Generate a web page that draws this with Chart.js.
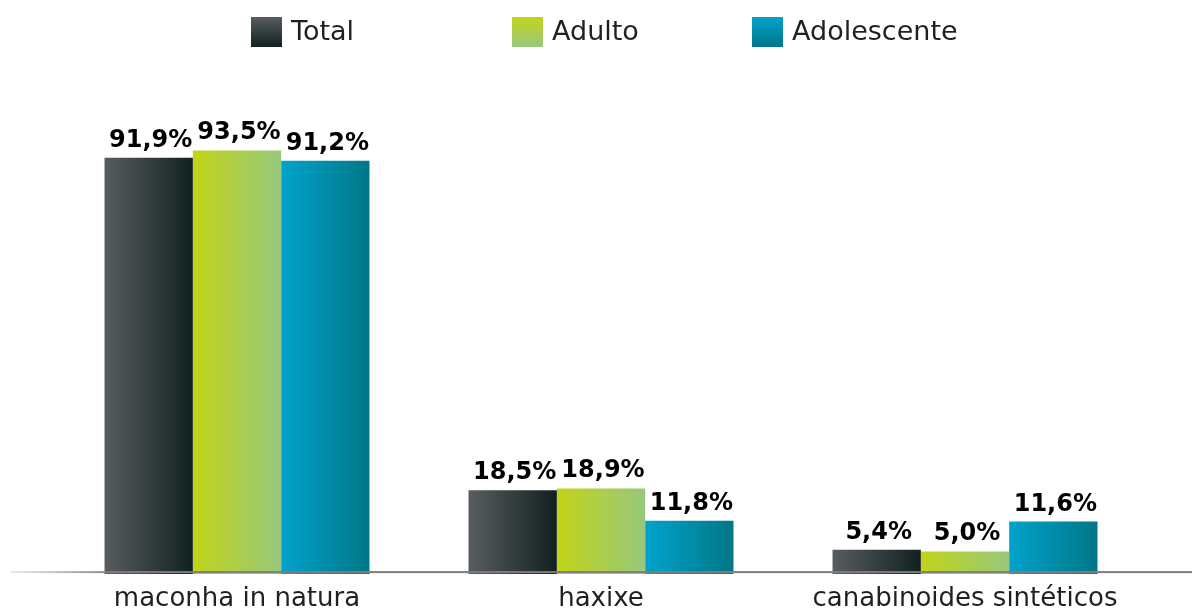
<!DOCTYPE html>
<html><head><meta charset="utf-8">
<script src="https://cdn.jsdelivr.net/npm/chart.js@4/dist/chart.umd.min.js"></script>
<style>html,body{margin:0;padding:0;background:#fff;}#wrap{width:1192px;height:610px;position:relative}</style>
</head><body><div id="wrap"><canvas id="c" width="1192" height="610"></canvas></div>
<script>
const categories = ['maconha in natura', 'haxixe', 'canabinoides sintéticos'];
const seriesNames = ['Total', 'Adulto', 'Adolescente'];
const totalValues = [91.9, 18.5, 5.4];
const adultoValues = [93.5, 18.9, 5.0];
const adolescenteValues = [91.2, 11.8, 11.6];
const yRange = [0, 100];

const FONT = '"DejaVu Sans", sans-serif';
const gradStops = [['#585d60', '#112020'], ['#c2d418', '#96c87c'], ['#00a3cc', '#007787']];
const legendX = [251, 512, 752];

const gradientPlugin = {
  id: 'grad',
  beforeDatasetsDraw(chart) {
    const ctx = chart.ctx;
    chart.data.datasets.forEach((ds, di) => {
      const meta = chart.getDatasetMeta(di);
      meta.data.forEach(bar => {
        const g = ctx.createLinearGradient(bar.x - bar.width / 2, 0, bar.x + bar.width / 2, 0);
        g.addColorStop(0, gradStops[di][0]);
        g.addColorStop(1, gradStops[di][1]);
        bar.options = Object.assign({}, bar.options, { backgroundColor: g });
      });
    });
  },
  afterDatasetsDraw(chart) {
    const ctx = chart.ctx;
    const ca = chart.chartArea;
    // baseline
    const y = ca.bottom - 2;
    const lg = ctx.createLinearGradient(10, 0, 120, 0);
    lg.addColorStop(0, 'rgba(150,150,150,0.2)');
    lg.addColorStop(1, 'rgba(125,125,125,1)');
    ctx.save();
    ctx.fillStyle = lg;
    ctx.fillRect(10, y - 1, chart.width - 10, 2);
    // value labels
    ctx.fillStyle = '#000';
    ctx.font = 'bold 24px ' + FONT;
    ctx.textAlign = 'center';
    ctx.textBaseline = 'alphabetic';
    chart.data.datasets.forEach((ds, di) => {
      const meta = chart.getDatasetMeta(di);
      meta.data.forEach((bar, i) => {
        const txt = ds.data[i].toFixed(1).replace('.', ',') + '%';
        ctx.fillText(txt, bar.x + 2, bar.y - 11);
      });
    });
    // legend
    ctx.font = '27px ' + FONT;
    ctx.textAlign = 'left';
    ctx.textBaseline = 'middle';
    chart.data.datasets.forEach((ds, di) => {
      const x = legendX[di];
      const g = ctx.createLinearGradient(0, 17, 0, 47);
      g.addColorStop(0, gradStops[di][0]);
      g.addColorStop(1, gradStops[di][1]);
      ctx.fillStyle = g;
      ctx.fillRect(x, 17, 31, 30);
      ctx.fillStyle = '#231f20';
      ctx.fillText(ds.label, x + 40, 33);
    });
    ctx.restore();
  }
};

new Chart(document.getElementById('c'), {
  type: 'bar',
  data: {
    labels: categories,
    datasets: [
      { label: seriesNames[0], data: totalValues, backgroundColor: gradStops[0][1] },
      { label: seriesNames[1], data: adultoValues, backgroundColor: gradStops[1][1] },
      { label: seriesNames[2], data: adolescenteValues, backgroundColor: gradStops[2][1] }
    ]
  },
  options: {
    responsive: false,
    animation: false,
    layout: { padding: { left: 55, right: 45, top: 121, bottom: -14 } },
    plugins: { legend: { display: false }, tooltip: { enabled: false } },
    datasets: { bar: { categoryPercentage: 0.728, barPercentage: 1.0, borderWidth: 0 } },
    scales: {
      x: {
        grid: { display: false, drawTicks: false, tickLength: 0 },
        border: { display: false },
        ticks: { color: '#231f20', font: { family: FONT, size: 26, lineHeight: 1.15 }, padding: 10, maxRotation: 0, autoSkip: false }
      },
      y: { display: false, min: yRange[0], max: yRange[1] }
    }
  },
  plugins: [gradientPlugin]
});
</script>
</body></html>
